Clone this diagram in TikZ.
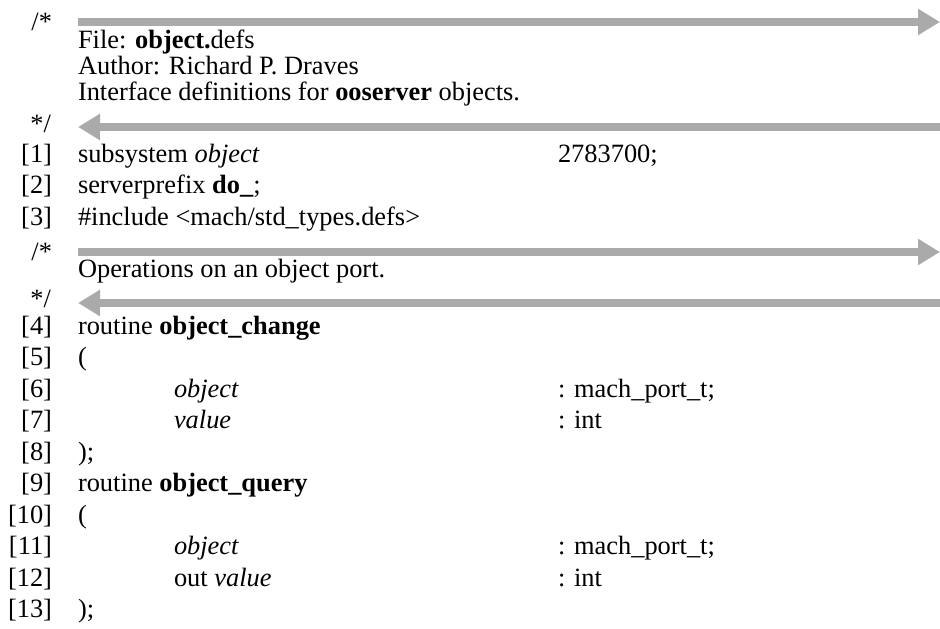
\documentclass[tikz,border=0pt]{standalone}
\usepackage{fontspec}
\setmainfont{Liberation Serif}
\usetikzlibrary{arrows.meta}
\definecolor{arrowgray}{RGB}{170,170,170}
\begin{document}
\begin{tikzpicture}[x=1pt,y=-1pt,
  codetext/.style={anchor=base west,inner sep=0pt,outer sep=0pt,font=\fontsize{26.4}{31.7}\selectfont},
  linenum/.style={anchor=base east,inner sep=0pt,outer sep=0pt,font=\fontsize{26.4}{31.7}\selectfont},
  cmtarrow/.style={draw=arrowgray,line width=7.5pt,-{Triangle[length=22pt,width=25pt]}}]
\useasboundingbox (0,0) rectangle (940,629);
% ---- first comment block ----
\node[linenum] (o1) at (52,30) {/*};
\coordinate (a1s) at (78,22);
\coordinate (a1e) at (940,22);
\draw[cmtarrow] (a1s) -- (a1e);
\node[codetext] (c1) at (78,48) {File: \textbf{object.}defs};
\node[codetext] (c2) at (78,74) {Author: Richard P. Draves};
\node[codetext] (c3) at (78,100) {Interface definitions for \textbf{ooserver} objects.};
\node[linenum] (e1) at (51,132) {*/};
\coordinate (b1s) at (940,127);
\coordinate (b1e) at (78,127);
\draw[cmtarrow] (b1s) -- (b1e);
% ---- code lines ----
\node[linenum] (n1) at (52,162) {[1]};
\node[codetext] (l1) at (78,162) {subsystem \textit{object}};
\node[codetext] (v1) at (558,162) {2783700;};
\node[linenum] (n2) at (52,193.7) {[2]};
\node[codetext] (l2) at (78,193.7) {serverprefix \textbf{do\_};};
\node[linenum] (n3) at (52,225.4) {[3]};
\node[codetext] (l3) at (78,225.4) {\#include <mach/std\_types.defs>};
% ---- second comment block ----
\node[linenum] (o2) at (52,260) {/*};
\coordinate (a2s) at (78,252);
\coordinate (a2e) at (940,252);
\draw[cmtarrow] (a2s) -- (a2e);
\node[codetext] (c4) at (78,277) {Operations on an object port.};
\node[linenum] (e2) at (51,307) {*/};
\coordinate (b2s) at (940,303);
\coordinate (b2e) at (78,303);
\draw[cmtarrow] (b2s) -- (b2e);
% ---- routines ----
\node[linenum] (n4) at (52,334) {[4]};
\node[codetext] (l4) at (78,334) {routine \textbf{object\_change}};
\node[linenum] (n5) at (52,365.5) {[5]};
\node[codetext] (l5) at (78,365.5) {(};
\node[linenum] (n6) at (52,397) {[6]};
\node[codetext] (l6) at (174,397) {\textit{object}};
\node[codetext] (t6) at (558,397) {: mach\_port\_t;};
\node[linenum] (n7) at (52,428.5) {[7]};
\node[codetext] (l7) at (174,428.5) {\textit{value}};
\node[codetext] (t7) at (558,428.5) {: int};
\node[linenum] (n8) at (52,460) {[8]};
\node[codetext] (l8) at (78,460) {);};
\node[linenum] (n9) at (52,491.5) {[9]};
\node[codetext] (l9) at (78,491.5) {routine \textbf{object\_query}};
\node[linenum] (n10) at (52,523) {[10]};
\node[codetext] (l10) at (78,523) {(};
\node[linenum] (n11) at (52,554.5) {[11]};
\node[codetext] (l11) at (174,554.5) {\textit{object}};
\node[codetext] (t11) at (558,554.5) {: mach\_port\_t;};
\node[linenum] (n12) at (52,586) {[12]};
\node[codetext] (l12) at (174,586) {out \textit{value}};
\node[codetext] (t12) at (558,586) {: int};
\node[linenum] (n13) at (52,617.5) {[13]};
\node[codetext] (l13) at (78,617.5) {);};
\end{tikzpicture}
\end{document}
